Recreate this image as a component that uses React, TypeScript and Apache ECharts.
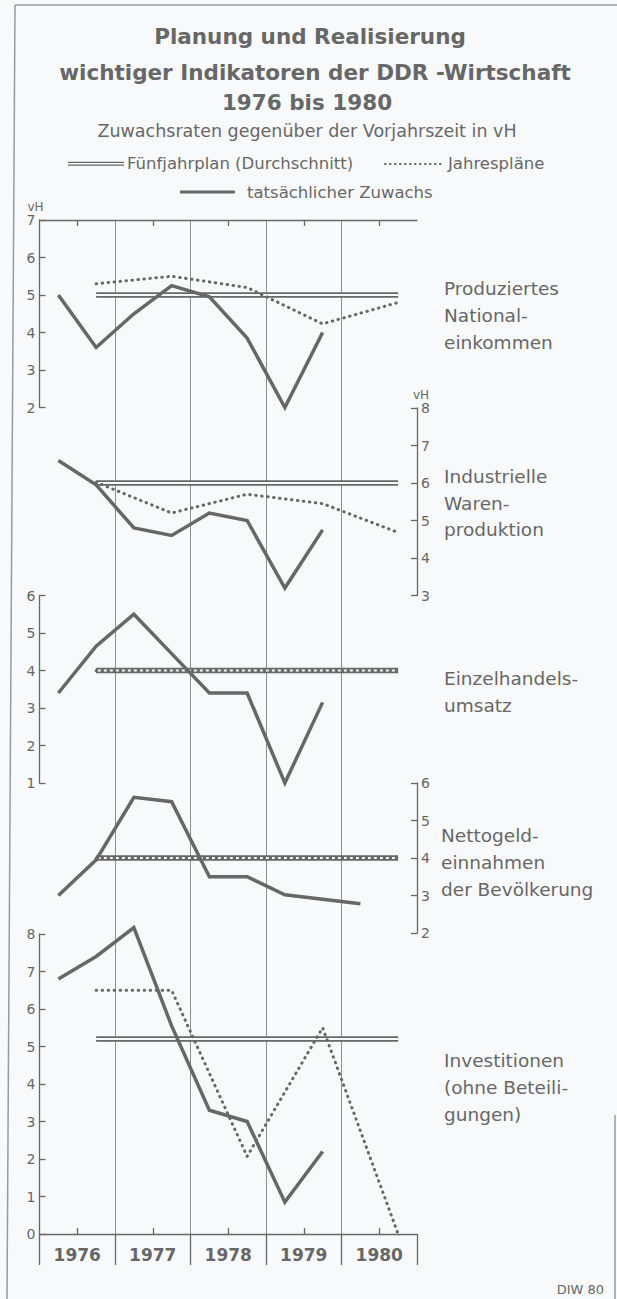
import React, { useEffect, useRef } from "react";
import * as echarts from "echarts";

// ---------- data ----------
const halfYears = ["1976 I", "1976 II", "1977 I", "1977 II", "1978 I", "1978 II", "1979 I", "1979 II", "1980 I", "1980 II"];
const years = ["1976", "1977", "1978", "1979", "1980"];

const panelNames = [
  "Produziertes\nNational-\neinkommen",
  "Industrielle\nWaren-\nproduktion",
  "Einzelhandels-\numsatz",
  "Nettogeld-\neinnahmen\nder Bevölkerung",
  "Investitionen\n(ohne Beteili-\ngungen)",
];

// tatsächlicher Zuwachs (half-years)
const actualNationaleinkommen = [5.0, 3.6, 4.5, 5.25, 4.95, 3.85, 2.0, 4.0, null, null];
const actualWarenproduktion = [6.6, 5.95, 4.8, 4.6, 5.2, 5.0, 3.2, 4.75, null, null];
const actualEinzelhandel = [3.4, 4.65, 5.5, 4.45, 3.4, 3.4, 1.0, 3.15, null, null];
const actualNettogeld = [3.0, 3.95, 5.62, 5.5, 3.5, 3.5, 3.02, 2.9, 2.78, null];
const actualInvestitionen = [6.8, 7.4, 8.17, 5.55, 3.3, 3.0, 0.85, 2.2, null, null];

// Jahrespläne
const annualNationaleinkommen = [null, 5.3, null, 5.5, null, 5.2, null, 4.23, null, 4.8];
const annualWarenproduktion = [null, 6.02, null, 5.2, null, 5.7, null, 5.45, null, 4.68];
const annualEinzelhandel = [null, 4.0, null, 4.0, null, 4.0, null, 4.0, null, 4.0];
const annualNettogeld = [null, 4.0, null, 4.0, null, 4.0, null, 4.0, null, 4.0];
const annualInvestitionen = [null, 6.5, null, 6.5, null, 2.07, null, 5.5, null, 0.0];

// Fünfjahrplan (Durchschnitt)
const fiveYearPlan = [5.0, 6.0, 4.0, 4.0, 5.2];
const planSpan = ["1976 II", "1980 II"];

// axis ranges (vH)
const axisMin = [2, 3, 1, 2, 0];
const axisMax = [7, 8, 6, 6, 8];
const axisSide = ["left", "right", "left", "right", "left"];

const actual = [actualNationaleinkommen, actualWarenproduktion, actualEinzelhandel, actualNettogeld, actualInvestitionen];
const annual = [annualNationaleinkommen, annualWarenproduktion, annualEinzelhandel, annualNettogeld, annualInvestitionen];

// ---------- layout / style ----------
const BG = "#f7f9fa";
const INK = "#676767";
const GRIDC = "#8f8f8f";
const FONT = "DejaVu Sans";
const L = 39.5;
const W = 377.5;
const UNIT = 37.5;
const panelTop = [220, 408, 595.5, 783, 934];

const pts = (vals: (number | null)[]) =>
  vals.map((v, i) => (v == null ? null : [i + 0.5, v])).filter((p) => p !== null);

function buildOption() {
  const grids: any[] = [{ left: L, width: W, top: 220, height: 1045 }];
  const xAxes: any[] = [
    {
      gridIndex: 0, type: "value", min: 0, max: 10, interval: 2,
      axisLine: { show: false }, axisTick: { show: false }, axisLabel: { show: false },
      splitLine: { show: true, showMinLine: false, showMaxLine: false, lineStyle: { color: GRIDC, width: 1 } },
    },
  ];
  const yAxes: any[] = [{ gridIndex: 0, type: "value", min: 0, max: 1, show: false }];
  const series: any[] = [];

  for (let p = 0; p < 5; p++) {
    const g = p + 1;
    grids.push({ left: L, width: W, top: panelTop[p], height: (axisMax[p] - axisMin[p]) * UNIT });
    const edgeAxis = p === 0 || p === 4;
    xAxes.push({
      gridIndex: g, type: "value", min: 0, max: 10, interval: 2,
      show: edgeAxis,
      position: p === 0 ? "top" : "bottom",
      axisLine: { show: true, onZero: false, lineStyle: { color: INK, width: 1.3 } },
      axisTick: { show: false, inside: true },
      minorTick: { show: true, splitNumber: 2, length: 6, lineStyle: { color: INK, width: 1.3 } },
      axisLabel: { show: false },
      splitLine: { show: false },
    });
    yAxes.push({
      gridIndex: g, type: "value", min: axisMin[p], max: axisMax[p], interval: 1,
      position: axisSide[p],
      name: p < 2 ? "vH" : "",
      nameLocation: "end",
      nameGap: 6,
      nameTextStyle: { color: INK, fontFamily: FONT, fontSize: 12, align: p === 0 ? "right" : "left", padding: p === 0 ? [0, -4, 0, 0] : [0, 0, 0, -4] },
      axisLine: { show: true, onZero: false, lineStyle: { color: INK, width: 1.3 } },
      axisTick: { show: true, inside: true, length: 6, lineStyle: { color: INK, width: 1.3 } },
      axisLabel: { color: INK, fontFamily: FONT, fontSize: 14, margin: 4 },
      splitLine: { show: false },
    });

    const i0 = halfYears.indexOf(planSpan[0]);
    const i1 = halfYears.indexOf(planSpan[1]);
    const planData = [[i0 + 0.5, fiveYearPlan[p]], [i1 + 0.5, fiveYearPlan[p]]];
    const common = { type: "line", xAxisIndex: g, yAxisIndex: g, symbol: "none", silent: true, clip: false };
    series.push({ ...common, name: "Fünfjahrplan (Durchschnitt)", data: planData, z: 2, lineStyle: { color: INK, width: 5.5, cap: "butt" } });
    series.push({ ...common, name: "Fünfjahrplan innen", data: planData, z: 3, lineStyle: { color: BG, width: 1.8, cap: "butt" } });
    series.push({ ...common, name: "Jahrespläne", data: pts(annual[p]), z: 4, lineStyle: { color: INK, width: 3, type: [0.5, 5.5], cap: "round" } });
    series.push({ ...common, name: "tatsächlicher Zuwachs", data: pts(actual[p]), z: 5, lineStyle: { color: INK, width: 3.5, join: "miter" } });
  }

  // year label axis under the last panel
  xAxes.push({
    gridIndex: 5, type: "category", data: years, position: "bottom", boundaryGap: true,
    axisLine: { show: false, onZero: false },
    axisTick: { show: true, alignWithLabel: false, length: 31, lineStyle: { color: INK, width: 1.3 } },
    axisLabel: { color: INK, fontFamily: FONT, fontSize: 17, fontWeight: "bold", margin: 12 },
    splitLine: { show: false },
  });

  const txt = (x: number, y: number, text: string, size: number, extra: any = {}) => ({
    type: "text", x, y, silent: true,
    style: { text, fill: INK, font: `${extra.bold ? "bold " : ""}${size}px '${FONT}'`, align: extra.align || "center", verticalAlign: extra.va || "middle", lineHeight: extra.lh },
  });
  const ln = (x1: number, y1: number, x2: number, y2: number, w: number, dash?: any, color = INK) => ({
    type: "line", silent: true, shape: { x1, y1, x2, y2 },
    style: { stroke: color, lineWidth: w, lineDash: dash, lineCap: dash ? "round" : "butt" },
  });

  const labelTops = [274.5, 463, 665, 821.5, 1046.5];
  const graphics: any[] = [
    // frame
    ln(15, 5, 617, 5, 1.5, undefined, "#9a9a9a"),
    ln(15, 5, 7, 1299, 1.5, undefined, "#9a9a9a"),
    ln(615, 1115, 615, 1299, 1.5, undefined, "#9a9a9a"),
    // titles
    txt(310, 36, "Planung und Realisierung", 21.5, { bold: true }),
    txt(315, 72, "wichtiger Indikatoren der DDR -Wirtschaft", 21.5, { bold: true }),
    txt(307, 102, "1976 bis 1980", 21.5, { bold: true }),
    txt(307, 131, "Zuwachsraten gegenüber der Vorjahrszeit in vH", 17.5),
    // legend
    ln(68, 162.3, 124, 162.3, 1.3),
    ln(68, 165.2, 124, 165.2, 1.3),
    txt(127, 163.5, "Fünfjahrplan (Durchschnitt)", 16.5, { align: "left" }),
    ln(385, 164, 444, 164, 2.2, [0.5, 4.5]),
    txt(448, 163.5, "Jahrespläne", 16.5, { align: "left" }),
    ln(180, 192, 235, 192, 3),
    txt(247, 192, "tatsächlicher Zuwachs", 16.5, { align: "left" }),
    // source
    txt(604, 1289, "DIW 80", 13, { align: "right" }),
  ];
  for (let p = 0; p < 5; p++) {
    graphics.push(txt(p === 3 ? 441 : 444, labelTops[p], panelNames[p], 18.5, { align: "left", va: "top", lh: p === 1 ? 26.7 : 27 }));
  }

  return {
    animation: false,
    backgroundColor: BG,
    textStyle: { fontFamily: FONT },
    grid: grids,
    xAxis: xAxes,
    yAxis: yAxes,
    series,
    graphic: graphics,
  };
}

export default function App() {
  const ref = useRef<HTMLDivElement>(null);
  useEffect(() => {
    document.body.style.margin = "0";
    document.body.style.background = BG;
    const chart = echarts.init(ref.current!, undefined, { renderer: "svg" });
    chart.setOption(buildOption() as any);
    return () => chart.dispose();
  }, []);
  return <div ref={ref} style={{ width: 617, height: 1299 }} />;
}
